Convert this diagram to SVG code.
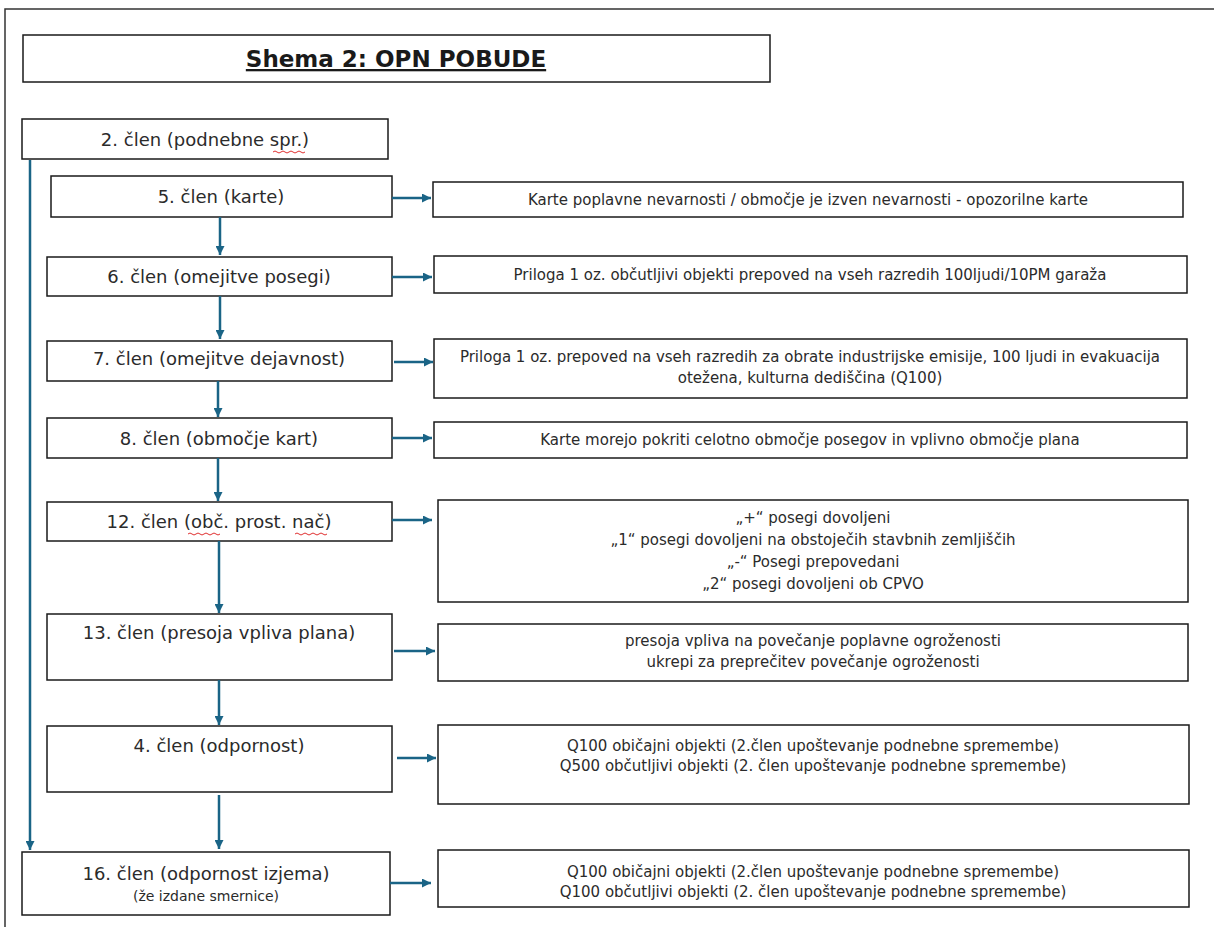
<svg xmlns="http://www.w3.org/2000/svg" width="1214" height="927" viewBox="0 0 1214 927">
<style>
.box{fill:#fff;stroke:#1a1a1a;stroke-width:1.5}
.lt{font-family:"DejaVu Sans",sans-serif;font-size:18px;fill:#2b2b2b;text-anchor:middle}
.rt{font-family:"DejaVu Sans",sans-serif;font-size:15px;fill:#2b2b2b;text-anchor:middle}
.sm{font-family:"DejaVu Sans",sans-serif;font-size:14px;fill:#2b2b2b;text-anchor:middle}
.ttl{font-family:"DejaVu Sans",sans-serif;font-size:23px;font-weight:bold;fill:#1a1a1a;text-anchor:middle;text-decoration:underline}
.ar{fill:none;stroke:#1a6486;stroke-width:2.5;marker-end:url(#ah)}
.sq{fill:none;stroke:#e03030;stroke-width:1}
</style>
<defs>
<marker id="ah" viewBox="0 0 10 10" refX="10" refY="5" markerWidth="9" markerHeight="9" markerUnits="userSpaceOnUse" orient="auto">
<path d="M0,0 L10,5 L0,10 z" fill="#1a6486"/>
</marker>
</defs>
<rect width="1214" height="927" fill="#fff"/>
<path d="M5,927 L5,9 L1214,9" fill="none" stroke="#333" stroke-width="1.5"/>

<g id="title">
<rect class="box" x="23" y="35" width="747" height="47"/>
<text class="ttl" x="396" y="67">Shema 2: OPN POBUDE</text>
</g>

<g id="n2">
<rect class="box" x="22" y="119" width="366" height="40"/>
<text class="lt" x="205" y="146">2. člen (podnebne spr.)</text>
<path class="sq" d="M273,152 q2,-2 4,0 t4,0 t4,0 t4,0 t4,0 t4,0 t4,0 t4,0"/>
</g>

<g id="n5">
<rect class="box" x="51" y="176" width="341" height="41"/>
<text class="lt" x="221" y="203">5. člen (karte)</text>
</g>
<g id="r5">
<rect class="box" x="433" y="182" width="750" height="35"/>
<text class="rt" x="808" y="205">Karte poplavne nevarnosti / območje je izven nevarnosti - opozorilne karte</text>
</g>

<g id="n6">
<rect class="box" x="47" y="257" width="345" height="39"/>
<text class="lt" x="219" y="283">6. člen (omejitve posegi)</text>
</g>
<g id="r6">
<rect class="box" x="434" y="256" width="753" height="37"/>
<text class="rt" x="810" y="280">Priloga 1 oz. občutljivi objekti prepoved na vseh razredih 100ljudi/10PM garaža</text>
</g>

<g id="n7">
<rect class="box" x="47" y="341" width="345" height="40"/>
<text class="lt" x="219" y="365">7. člen (omejitve dejavnost)</text>
</g>
<g id="r7">
<rect class="box" x="434" y="339" width="753" height="59"/>
<text class="rt" x="810" y="362">Priloga 1 oz. prepoved na vseh razredih za obrate industrijske emisije, 100 ljudi in evakuacija</text>
<text class="rt" x="810" y="383">otežena, kulturna dediščina (Q100)</text>
</g>

<g id="n8">
<rect class="box" x="47" y="418" width="345" height="40"/>
<text class="lt" x="219" y="445">8. člen (območje kart)</text>
</g>
<g id="r8">
<rect class="box" x="434" y="422" width="753" height="36"/>
<text class="rt" x="810" y="445">Karte morejo pokriti celotno območje posegov in vplivno območje plana</text>
</g>

<g id="n12">
<rect class="box" x="47" y="502" width="345" height="39"/>
<text class="lt" x="219" y="528">12. člen (obč. prost. nač)</text>
<path class="sq" d="M188,534 q2,-2 4,0 t4,0 t4,0 t4,0 t4,0 t4,0 t4,0 t4,0"/>
<path class="sq" d="M295,534 q2,-2 4,0 t4,0 t4,0 t4,0 t4,0 t4,0 t4,0 t4,0"/>
</g>
<g id="r12">
<rect class="box" x="438" y="500" width="750" height="102"/>
<text class="rt" x="813" y="523">„+“ posegi dovoljeni</text>
<text class="rt" x="813" y="545">„1“ posegi dovoljeni na obstoječih stavbnih zemljiščih</text>
<text class="rt" x="813" y="567">„-“ Posegi prepovedani</text>
<text class="rt" x="813" y="589">„2“ posegi dovoljeni ob CPVO</text>
</g>

<g id="n13">
<rect class="box" x="47" y="614" width="345" height="66"/>
<text class="lt" x="219" y="639">13. člen (presoja vpliva plana)</text>
</g>
<g id="r13">
<rect class="box" x="438" y="624" width="750" height="57"/>
<text class="rt" x="813" y="646">presoja vpliva na povečanje poplavne ogroženosti</text>
<text class="rt" x="813" y="667">ukrepi za preprečitev povečanje ogroženosti</text>
</g>

<g id="n4">
<rect class="box" x="47" y="726" width="345" height="66"/>
<text class="lt" x="219" y="752">4. člen (odpornost)</text>
</g>
<g id="r4">
<rect class="box" x="438" y="725" width="751" height="79"/>
<text class="rt" x="813" y="751">Q100 običajni objekti (2.člen upoštevanje podnebne spremembe)</text>
<text class="rt" x="813" y="771">Q500 občutljivi objekti (2. člen upoštevanje podnebne spremembe)</text>
</g>

<g id="n16">
<rect class="box" x="22" y="852" width="368" height="63"/>
<text class="lt" x="206" y="880">16. člen (odpornost izjema)</text>
<text class="sm" x="206" y="901">(že izdane smernice)</text>
</g>
<g id="r16">
<rect class="box" x="438" y="850" width="751" height="57"/>
<text class="rt" x="813" y="877">Q100 običajni objekti (2.člen upoštevanje podnebne spremembe)</text>
<text class="rt" x="813" y="897">Q100 občutljivi objekti (2. člen upoštevanje podnebne spremembe)</text>
</g>

<g id="connectors">
<line class="ar" x1="30" y1="160" x2="30" y2="850"/>
<line class="ar" x1="220" y1="217" x2="220" y2="255"/>
<line class="ar" x1="220" y1="296" x2="220" y2="339"/>
<line class="ar" x1="218" y1="381" x2="218" y2="417"/>
<line class="ar" x1="218" y1="458" x2="218" y2="501"/>
<line class="ar" x1="219" y1="541" x2="219" y2="613"/>
<line class="ar" x1="219" y1="680" x2="219" y2="725"/>
<line class="ar" x1="219" y1="795" x2="219" y2="849"/>
<line class="ar" x1="392" y1="198" x2="431" y2="198"/>
<line class="ar" x1="392" y1="277" x2="432" y2="277"/>
<line class="ar" x1="394" y1="362" x2="433" y2="362"/>
<line class="ar" x1="392" y1="438" x2="432" y2="438"/>
<line class="ar" x1="392" y1="520" x2="432" y2="520"/>
<line class="ar" x1="394" y1="651" x2="435" y2="651"/>
<line class="ar" x1="397" y1="758" x2="436" y2="758"/>
<line class="ar" x1="390" y1="883" x2="431" y2="883"/>
</g>
</svg>
